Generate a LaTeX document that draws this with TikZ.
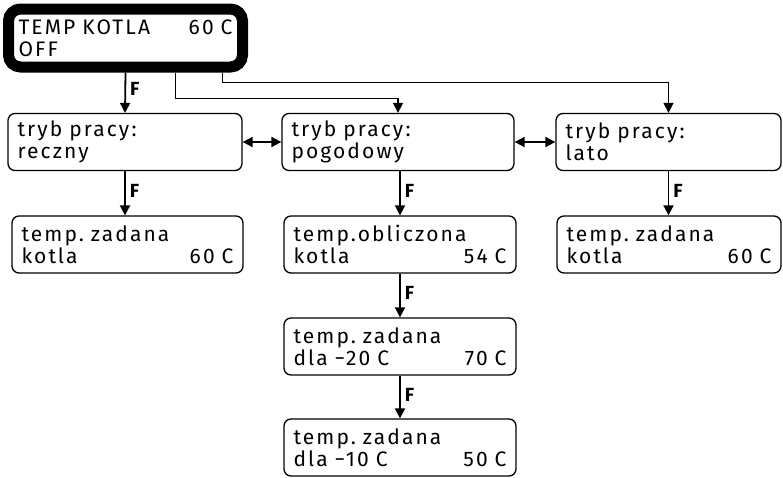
\documentclass[tikz,border=0pt]{standalone}
\usepackage{fontspec}
\setmainfont{Fira Sans}[LetterSpace=10]
\newfontfamily\keyfont{Fira Sans}
\usepackage{tikz}
\usetikzlibrary{arrows.meta, positioning}
\frenchspacing

\begin{document}
\begin{tikzpicture}[x=1pt, y=-1pt,
    box/.style={draw, rounded corners=7pt, line width=1.3pt, align=left,
        inner xsep=9.5pt, inner ysep=0pt, minimum height=57pt,
        font=\fontsize{21}{22}\selectfont},
    flow/.style={-{Triangle[length=10pt, width=10pt]}, line width=1.8pt},
    link/.style={-{Triangle[length=10pt, width=10pt]}, line width=1.5pt},
    swap/.style={{Triangle[length=10pt, width=10pt]}-{Triangle[length=10pt, width=10pt]}, line width=1.8pt},
    key/.style={right=3pt, inner sep=1pt, font=\keyfont\fontsize{19}{19}\selectfont\bfseries}]
    \useasboundingbox (0,0) rectangle (783,477);

    \node[draw, line width=11pt, rounded corners=12pt, align=left, text width=214pt,
          inner xsep=10pt, inner ysep=0pt, minimum height=58pt,
          font=\fontsize{21}{22}\selectfont] (main) at (125.5,38) {TEMP KOTLA\hfill 60 C\\OFF};

    \node[box, text width=215pt] (reczny) at (125,142) {tryb pracy:\\reczny};
    \node[box, text width=213pt] (pogodowy) at (398,142) {tryb pracy:\\pogodowy};
    \node[box, text width=206pt] (lato) at (668.5,142) {tryb pracy:\\lato};

    \node[box, text width=212pt] (zadanaR) at (127.5,244.5) {temp. zadana\\kotla\hfill 60 C};
    \node[box, text width=213pt] (obliczona) at (400,244.5) {temp.obliczona\\kotla\hfill 54 C};
    \node[box, text width=205pt] (zadanaL) at (669,244.5) {temp. zadana\\kotla\hfill 60 C};
    \node[box, text width=213pt] (minus20) at (400,346.5) {temp. zadana\\dla −20 C\hfill 70 C};
    \node[box, text width=213pt] (minus10) at (400,447.5) {temp. zadana\\dla −10 C\hfill 50 C};

    \draw[flow] (main.south) -- (reczny.north) node[key, pos=0.4] {F};
    \draw[link] ([xshift=50pt]main.south) -- ++(0,26) -| (pogodowy.north);
    \draw[link] ([xshift=97pt]main.south) -- ++(0,10) -| (lato.north);

    \draw[swap] (reczny.east) -- (pogodowy.west);
    \draw[swap] (pogodowy.east) -- (lato.west);

    \draw[flow] (reczny.south) -- (reczny.south |- zadanaR.north) node[key, pos=0.45] {F};
    \draw[flow] (pogodowy.south -| obliczona) -- (obliczona.north) node[key, pos=0.45] {F};
    \draw[flow] (lato.south) -- (lato.south |- zadanaL.north) node[key, pos=0.45] {F};
    \draw[flow] (obliczona.south) -- (minus20.north) node[key, pos=0.45] {F};
    \draw[flow] (minus20.south) -- (minus10.north) node[key, pos=0.45] {F};
\end{tikzpicture}
\end{document}
